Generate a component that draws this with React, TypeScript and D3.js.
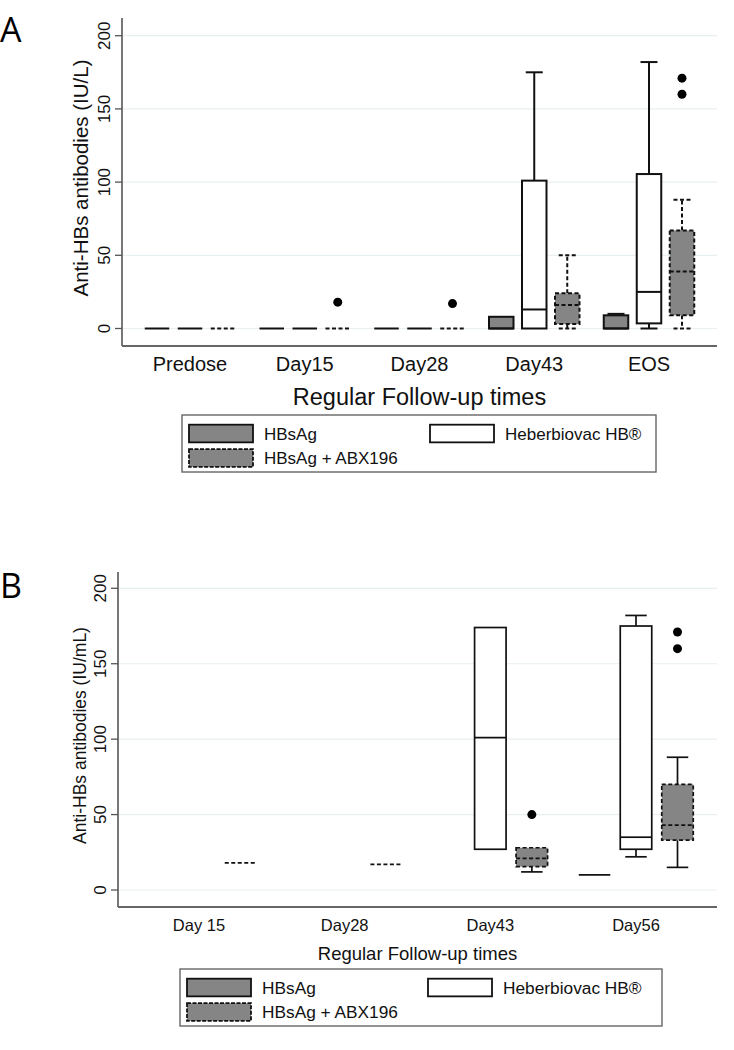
import React from "react";
import * as d3 from "d3";

// ---------- DATA ----------
// Box stats: [lowWhisker, q1, median, q3, highWhisker]
type Box = [number, number, number, number, number] | null;

const categoriesA = ["Predose", "Day15", "Day28", "Day43", "EOS"];
const hbsagA: Box[] = [
  [0, 0, 0, 0, 0],
  [0, 0, 0, 0, 0],
  [0, 0, 0, 0, 0],
  [0, 0, 0, 8, 8],
  [0, 0, 0, 9, 10],
];
const heberA: Box[] = [
  [0, 0, 0, 0, 0],
  [0, 0, 0, 0, 0],
  [0, 0, 0, 0, 0],
  [0, 0, 13, 101, 175],
  [0, 3.5, 25, 105.5, 182],
];
const abxA: Box[] = [
  [0, 0, 0, 0, 0],
  [0, 0, 0, 0, 0],
  [0, 0, 0, 0, 0],
  [0, 3, 16, 24, 50],
  [0, 9, 39, 67, 88],
];
const abxOutliersA: number[][] = [[], [18], [17], [], [160, 171]];

const categoriesB = ["Day 15", "Day28", "Day43", "Day56"];
const hbsagB: Box[] = [null, null, null, [10, 10, 10, 10, 10]];
const heberB: Box[] = [null, null, [27, 27, 101, 174, 174], [22, 27, 35, 175, 182]];
const abxB: Box[] = [
  [18, 18, 18, 18, 18],
  [17, 17, 17, 17, 17],
  [12, 15.5, 21, 28, 28],
  [15, 33, 43, 70, 88],
];
const abxOutliersB: number[][] = [[], [], [50], [160, 171]];

const yTicks = [0, 50, 100, 150, 200];
const legendLabels = ["HBsAg", "HBsAg + ABX196", "Heberbiovac HB®"];

const FONT = "'Liberation Sans', Arial, sans-serif";
const GRAY = "#858585";
const INK = "#111";

type PanelCfg = {
  letter: string;
  letterY: number;
  categories: string[];
  hbsag: Box[];
  heber: Box[];
  abx: Box[];
  abxOut: number[][];
  yTitle: string;
  axisX: number;
  right: number;
  top: number;
  bottom: number;
  y0: number;
  y200: number;
  xFirst: number;
  xLast: number;
  offset: number;
  boxW: number;
  capW: number;
  sw: number;
  tickFont: number;
  tickLabelX: number;
  yTitleFont: number;
  yTitleX: number;
  xLabelFont: number;
  xLabelY: number;
  titleFont: number;
  titleY: number;
  abxWhiskerDashed: boolean;
  legend: { x0: number; x1: number; y0: number; y1: number; font: number };
};

function BoxMark({
  b, cx, y, w, capW, fill, dashed, whiskerDashed, sw,
}: {
  b: Box; cx: number; y: d3.ScaleLinear<number, number>; w: number; capW: number;
  fill: string; dashed: boolean; whiskerDashed: boolean; sw: number;
}) {
  if (!b) return null;
  const [lo, q1, med, q3, hi] = b;
  const dash = dashed ? "4,2.5" : undefined;
  const wdash = whiskerDashed ? "4,2.5" : undefined;
  const x0 = cx - w / 2;
  const els: React.ReactNode[] = [];
  if (hi > q3) {
    els.push(<line key="wh" x1={cx} x2={cx} y1={y(q3)} y2={y(hi)} stroke={INK} strokeWidth={sw} strokeDasharray={wdash} />);
    els.push(<line key="ch" x1={cx - capW / 2} x2={cx + capW / 2} y1={y(hi)} y2={y(hi)} stroke={INK} strokeWidth={sw} strokeDasharray={wdash} />);
  }
  if (lo < q1) {
    els.push(<line key="wl" x1={cx} x2={cx} y1={y(q1)} y2={y(lo)} stroke={INK} strokeWidth={sw} strokeDasharray={wdash} />);
    els.push(<line key="cl" x1={cx - capW / 2} x2={cx + capW / 2} y1={y(lo)} y2={y(lo)} stroke={INK} strokeWidth={sw} strokeDasharray={wdash} />);
  }
  if (q3 > q1) {
    els.push(<rect key="bx" x={x0} y={y(q3)} width={w} height={y(q1) - y(q3)} fill={fill} stroke={INK} strokeWidth={sw} strokeDasharray={dash} />);
    els.push(<line key="md" x1={x0} x2={x0 + w} y1={y(med)} y2={y(med)} stroke={INK} strokeWidth={sw} strokeDasharray={dash} />);
  } else {
    els.push(<line key="flat" x1={x0} x2={x0 + w} y1={y(q1)} y2={y(q1)} stroke={INK} strokeWidth={sw} strokeDasharray={dash} />);
  }
  return <g>{els}</g>;
}

function Panel({ c }: { c: PanelCfg }) {
  const y = d3.scaleLinear().domain([0, 200]).range([c.y0, c.y200]);
  const x = d3.scalePoint<string>().domain(c.categories).range([c.xFirst, c.xLast]);
  const lg = c.legend;
  const rowH = (lg.y1 - lg.y0);
  const sw1y = lg.y0 + rowH * 0.17;
  const swH = rowH * 0.31;
  const sw2y = lg.y0 + rowH * 0.6;
  const swX = lg.x0 + 7;
  const swW = 64;
  const sw3X = lg.x0 + 248;
  const textOff = 11;
  const midX = (c.axisX + c.right) / 2;
  return (
    <g fontFamily={FONT}>
      <text x={0} y={c.letterY} fontSize={34} fontFamily="'Open Sans', 'DejaVu Sans', sans-serif" fill="#000">{c.letter}</text>
      {/* gridlines */}
      {yTicks.map((t) => (
        <line key={"g" + t} x1={c.axisX + 1} x2={c.right} y1={y(t)} y2={y(t)} stroke="#e8f0f1" strokeWidth={1.2} />
      ))}
      {/* axes */}
      <line x1={c.axisX} x2={c.axisX} y1={c.top} y2={c.bottom} stroke="#555" strokeWidth={1.6} />
      <line x1={c.axisX} x2={c.right} y1={c.bottom} y2={c.bottom} stroke="#666" strokeWidth={1.8} />
      {yTicks.map((t) => (
        <g key={"t" + t}>
          <line x1={c.axisX - 7} x2={c.axisX} y1={y(t)} y2={y(t)} stroke="#555" strokeWidth={1.3} />
          <text
            transform={`translate(${c.tickLabelX},${y(t)}) rotate(-90)`}
            textAnchor="middle" fontSize={c.tickFont} fill="#111"
          >{t}</text>
        </g>
      ))}
      <text
        transform={`translate(${c.yTitleX},${(c.top + c.bottom) / 2 - 4}) rotate(-90)`}
        textAnchor="middle" fontSize={c.yTitleFont} fill="#111"
      >{c.yTitle}</text>
      {/* x labels */}
      {c.categories.map((cat) => (
        <text key={cat} x={x(cat)} y={c.xLabelY} textAnchor="middle" fontSize={c.xLabelFont} fill="#111">{cat}</text>
      ))}
      <text x={midX} y={c.titleY} textAnchor="middle" fontSize={c.titleFont} fill="#111">Regular Follow-up times</text>
      {/* boxes */}
      {c.categories.map((cat, i) => {
        const cx = x(cat)!;
        return (
          <g key={"b" + cat}>
            <BoxMark b={c.hbsag[i]} cx={cx - c.offset} y={y} w={c.boxW} capW={c.capW} fill={GRAY} dashed={false} whiskerDashed={false} sw={c.sw} />
            <BoxMark b={c.heber[i]} cx={cx} y={y} w={c.boxW} capW={c.capW} fill="#fff" dashed={false} whiskerDashed={false} sw={c.sw} />
            <BoxMark b={c.abx[i]} cx={cx + c.offset} y={y} w={c.boxW} capW={c.capW} fill={GRAY} dashed={true} whiskerDashed={c.abxWhiskerDashed} sw={c.sw} />
            {c.abxOut[i].map((v, k) => (
              <circle key={k} cx={cx + c.offset} cy={y(v)} r={4.5} fill="#000" />
            ))}
          </g>
        );
      })}
      {/* legend */}
      <rect x={lg.x0} y={lg.y0} width={lg.x1 - lg.x0} height={lg.y1 - lg.y0} fill="#fff" stroke="#666" strokeWidth={1.4} />
      <rect x={swX} y={sw1y} width={swW} height={swH} fill={GRAY} stroke={INK} strokeWidth={1.8} />
      <text x={swX + swW + textOff} y={sw1y + swH / 2 + lg.font * 0.36} fontSize={lg.font} fill="#111">{legendLabels[0]}</text>
      <rect x={swX} y={sw2y} width={swW} height={swH} fill={GRAY} stroke={INK} strokeWidth={1.8} strokeDasharray="4,1.5" />
      <text x={swX + swW + textOff} y={sw2y + swH / 2 + lg.font * 0.36} fontSize={lg.font} fill="#111">{legendLabels[1]}</text>
      <rect x={sw3X} y={sw1y} width={swW} height={swH} fill="#fff" stroke={INK} strokeWidth={1.8} />
      <text x={sw3X + swW + textOff} y={sw1y + swH / 2 + lg.font * 0.36} fontSize={lg.font} fill="#111">{legendLabels[2]}</text>
    </g>
  );
}

const cfgA: PanelCfg = {
  letter: "A", letterY: 42,
  categories: categoriesA, hbsag: hbsagA, heber: heberA, abx: abxA, abxOut: abxOutliersA,
  yTitle: "Anti-HBs antibodies (IU/L)",
  axisX: 122, right: 717, top: 18, bottom: 346, y0: 328.5, y200: 35.7,
  xFirst: 190, xLast: 649, offset: 33, boxW: 24.5, capW: 17, sw: 2,
  tickFont: 17, tickLabelX: 110, yTitleFont: 20.5, yTitleX: 88,
  xLabelFont: 20, xLabelY: 371, titleFont: 23.5, titleY: 405,
  abxWhiskerDashed: true,
  legend: { x0: 182, x1: 656, y0: 415, y1: 472, font: 17 },
};

const cfgB: PanelCfg = {
  letter: "B", letterY: 598,
  categories: categoriesB, hbsag: hbsagB, heber: heberB, abx: abxB, abxOut: abxOutliersB,
  yTitle: "Anti-HBs antibodies (IU/mL)",
  axisX: 118, right: 717, top: 572, bottom: 907, y0: 890, y200: 588.3,
  xFirst: 199, xLast: 636, offset: 41.5, boxW: 31.5, capW: 21.5, sw: 1.7,
  tickFont: 17, tickLabelX: 106, yTitleFont: 17.5, yTitleX: 86,
  xLabelFont: 16.5, xLabelY: 931, titleFont: 18.5, titleY: 960,
  abxWhiskerDashed: false,
  legend: { x0: 180, x1: 662, y0: 969, y1: 1026, font: 17.3 },
};

export default function App() {
  return (
    <svg width={734} height={1050} style={{ position: "absolute", left: 0, top: 0, background: "#fff" }}>
      <rect width={734} height={1050} fill="#fff" />
      <Panel c={cfgA} />
      <Panel c={cfgB} />
    </svg>
  );
}
